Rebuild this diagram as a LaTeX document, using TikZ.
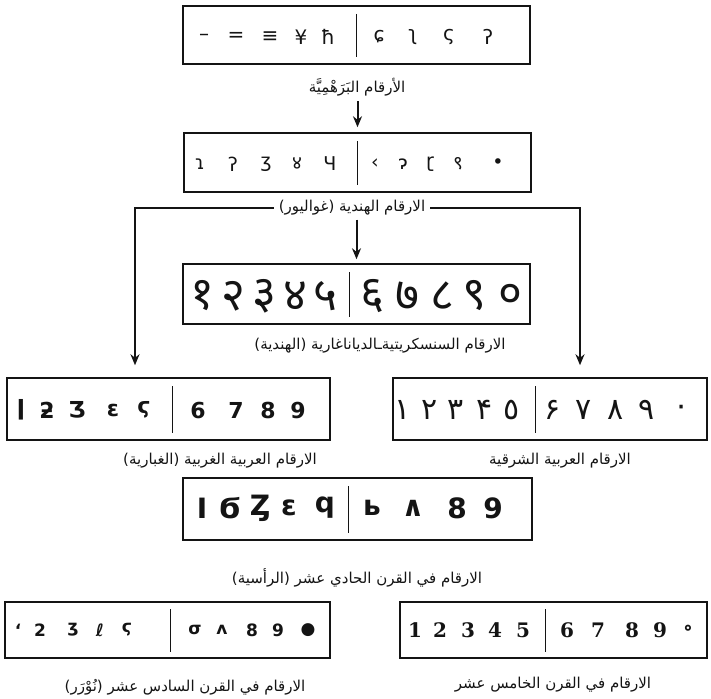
\documentclass[tikz,border=0pt]{standalone}
\usepackage{fontspec}
\usepackage{tikz}
\usetikzlibrary{arrows.meta}
\TeXXeTstate=1
\newfontfamily\arabicfont[Script=Arabic]{DejaVu Sans}
\newfontfamily\devfont[Script=Devanagari]{Noto Sans}
\newfontfamily\glyphfont{DejaVu Sans}
\newfontfamily\glyphserif{DejaVu Serif}
\definecolor{ink}{RGB}{20,20,20}
\tikzset{
  numbox/.style={draw=ink, line width=1.5pt, inner sep=0pt},
  lbl/.style={font=\arabicfont\fontsize{15}{17}\selectfont, text=ink, inner sep=2pt},
  arr/.style={-{Stealth[length=11pt,width=9pt]}, line width=2pt, draw=ink},
  brk/.style={line width=2.2pt, draw=ink},
  divider/.style={line width=1pt, draw=ink},
  glyph/.style={text=ink, inner sep=0pt, anchor=center},
}

\begin{document}
\begin{tikzpicture}[x=1pt, y=-1pt]
  \useasboundingbox (0,0) rectangle (711,698);
  % Boxes
  \node[numbox, minimum width=347pt, minimum height=58pt] (brahmi) at (356.5,35) {};
  \node[numbox, minimum width=347pt, minimum height=59pt] (gwalior) at (357.5,162.5) {};
  \node[numbox, minimum width=347pt, minimum height=60pt] (deva) at (356.5,294) {};
  \node[numbox, minimum width=323pt, minimum height=62pt] (ghubar) at (168.5,409) {};
  \node[numbox, minimum width=314pt, minimum height=62pt] (eastern) at (550,409) {};
  \node[numbox, minimum width=349pt, minimum height=62pt] (middle) at (357.5,509) {};
  \node[numbox, minimum width=325pt, minimum height=56pt] (sixteenth) at (167.5,630) {};
  \node[numbox, minimum width=307pt, minimum height=56pt] (fifteenth) at (553.5,630) {};
  % Dividers between 1-5 and 6-0
  \draw[divider] (356,14) -- (356,57);
  \draw[divider] (357,141) -- (357,185);
  \draw[divider] (349,272) -- (349,317);
  \draw[divider] (172,386) -- (172,433);
  \draw[divider] (535,386) -- (535,433);
  \draw[divider] (348,486) -- (348,533);
  \draw[divider] (170,609) -- (170,652);
  \draw[divider] (545,609) -- (545,652);
  % Brahmi digits
  \foreach \gx/\gc [count=\i] in {204/–,236/=,270/≡,301/¥,328/ħ,379/ɕ,413/ʅ,449/ς,488/ʔ}
    \node[glyph, font=\glyphfont\fontsize{20}{20}\selectfont] (brahmi-\i) at (\gx,37) {\gc};
  % Gwalior digits
  \foreach \gx/\gc [count=\i] in {200/ɿ,233/ʔ,266/ʒ,297/{\devfont ४},330/Ч,375/‹,403/ɂ,430/ɽ,458/{\devfont ९},498/•}
    \node[glyph, font=\glyphfont\fontsize{19}{19}\selectfont] (gwalior-\i) at (\gx,164) {\gc};
  % Devanagari digits
  \foreach \gx/\gc [count=\i] in {202/१,233/२,264/३,295/४,325/५,372/६,407/७,442/८,474/९,510/०}
    \node[glyph, font=\devfont\bfseries\fontsize{46}{46}\selectfont] (deva-\i) at (\gx,296) {\gc};
  % Western (Ghubar) digits
  \foreach \gx/\gc [count=\i] in {21/ǀ,47/ƻ,77/Ʒ,113/ɛ,144/ϛ,198/6,236/7,268/8,298/9}
    \node[glyph, font=\glyphfont\bfseries\fontsize{22}{22}\selectfont] (ghubar-\i) at (\gx,410) {\gc};
  % Eastern digits
  \foreach \gx/\gc [count=\i] in {403/١,430/٢,456/٣,485/۴,512/٥,553/۶,584/٧,616/٨,647/٩,682/٠}
    \node[glyph, font=\glyphfont\fontsize{30}{30}\selectfont] (eastern-\i) at (\gx,410) {\gc};
  % Eleventh century digits
  \foreach \gx/\gc [count=\i] in {202/I,230/Ϭ,260/Ȥ,289/ɛ,325/q,372/ь,413/∧,457/8,493/9}
    \node[glyph, font=\glyphfont\bfseries\fontsize{28}{28}\selectfont] (middle-\i) at (\gx,508) {\gc};
  % Sixteenth century digits
  \foreach \gx/\gc [count=\i] in {18/ʻ,40/2,73/ʒ,100/ℓ,127/ϛ,195/σ,222/ʌ,252/8,278/9,308/●}
    \node[glyph, font=\glyphfont\bfseries\fontsize{17}{17}\selectfont] (sixteenth-\i) at (\gx,630) {\gc};
  % Fifteenth century digits
  \foreach \gx/\gc [count=\i] in {415/1,440/2,468/3,495/4,523/5,567/6,598/7,632/8,660/9,688/∘}
    \node[glyph, font=\glyphserif\bfseries\fontsize{20}{20}\selectfont] (fifteenth-\i) at (\gx,630) {\gc};
  % Labels
  \node[lbl] (brahmiLbl) at (357,87) {\beginR الأرقام البَرَهْمِيَّة\endR};
  \node[lbl, inner xsep=5pt] (gwaliorLbl) at (352,208) {\beginR الارقام الهندية (غواليور)\endR};
  \node[lbl] (devaLbl) at (380,346) {\beginR الارقام السنسكريتيةـالدياناغارية (الهندية)\endR};
  \node[lbl] (ghubarLbl) at (220,461) {\beginR الارقام العربية الغربية (الغبارية)\endR};
  \node[lbl] (easternLbl) at (560,461) {\beginR الارقام العربية الشرقية\endR};
  \node[lbl] (middleLbl) at (357,578) {\beginR الارقام في القرن الحادي عشر (الرأسية)\endR};
  \node[lbl] (sixteenthLbl) at (185,687) {\beginR الارقام في القرن السادس عشر (نُوْرَر)\endR};
  \node[lbl] (fifteenthLbl) at (553,685) {\beginR الارقام في القرن الخامس عشر\endR};
  % Arrows
  \draw[arr, shorten <=3pt, shorten >=5pt] (brahmiLbl.south -| gwalior.north) -- (gwalior.north);
  \draw[arr, shorten <=2pt, shorten >=4pt] (deva.north |- gwaliorLbl.south) -- (deva.north);
  \coordinate (bl) at (135,208);
  \coordinate (br) at (580,208);
  \draw[brk, arr, shorten >=12pt] (gwaliorLbl.west) -- (bl) -- (bl |- ghubar.north);
  \draw[brk, arr, shorten >=12pt] (gwaliorLbl.east) -- (br) -- (br |- eastern.north);
\end{tikzpicture}
\end{document}
